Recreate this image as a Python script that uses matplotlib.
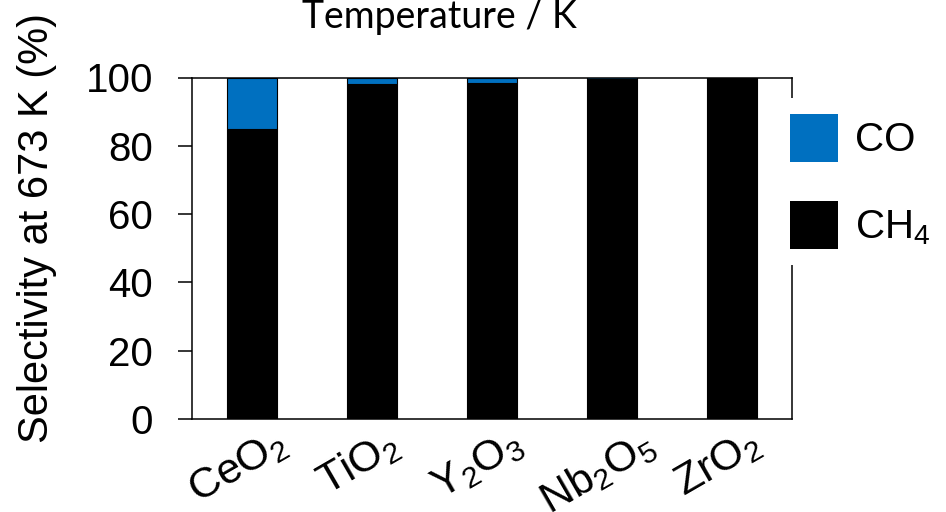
import numpy as np
import matplotlib.pyplot as plt
import matplotlib.transforms as mtransforms
from matplotlib.patches import Patch

plt.rcParams['font.family'] = 'Liberation Sans'
plt.rcParams['mathtext.fontset'] = 'custom'
plt.rcParams['mathtext.rm'] = 'Liberation Sans'
plt.rcParams['mathtext.it'] = 'Liberation Sans'

# Data
catalysts = [r'CeO$_2$', r'TiO$_2$', r'Y$_2$O$_3$', r'Nb$_2$O$_5$', r'ZrO$_2$']
ch4_sel = [84.8, 98.2, 98.4, 99.5, 99.8]
co_sel = [15.2, 1.8, 1.6, 0.5, 0.2]

co_color = '#0070C0'
ch4_color = '#000000'

fig = plt.figure(figsize=(9.46, 5.12), dpi=100)
ax = fig.add_axes([192 / 946, 1 - 419 / 512, 600 / 946, 341.5 / 512])

x = np.arange(len(catalysts))
width = 0.42
ax.bar(x, ch4_sel, width, color=ch4_color, edgecolor='black', linewidth=0.8, zorder=2)
ax.bar(x, co_sel, width, bottom=ch4_sel, color=co_color, edgecolor='black',
       linewidth=0.8, zorder=2)

ax.set_xlim(-0.5, len(catalysts) - 0.5)
ax.set_ylim(0, 100)
ax.set_yticks([0, 20, 40, 60, 80, 100])
ax.tick_params(axis='y', direction='out', length=10, width=1.1, labelsize=29, pad=18)
ax.tick_params(axis='x', length=0, labelsize=31, pad=3)
ax.set_xticks(x)
ax.set_xticklabels(catalysts, rotation=30, ha='center')
shift = mtransforms.ScaledTranslation(-14 / 100, 0, fig.dpi_scale_trans)
for lbl in ax.get_xticklabels():
    lbl.set_transform(lbl.get_transform() + shift)
for s in ax.spines.values():
    s.set_linewidth(1.1)

ax.set_ylabel('Selectivity at 673 K (%)', fontsize=30)
ax.yaxis.set_label_coords((57 - 192) / 600, (419 - 228) / 341.5)

# legend drawn over the right spine with white background
handles = [Patch(facecolor=co_color, edgecolor='none'),
           Patch(facecolor=ch4_color, edgecolor='none')]
leg = ax.legend(handles, ['CO', r'CH$_4$'], loc='upper left',
                bbox_to_anchor=(0.97, 0.94), frameon=True, facecolor='white',
                edgecolor='none', framealpha=1, fontsize=29, handlelength=1.2,
                handleheight=1.45, handletextpad=0.4, labelspacing=0.97,
                borderpad=0.4, borderaxespad=0)

fig.text(439 / 946, 1 - 28 / 512, 'Temperature / K', family='Lato', fontsize=27,
         ha='center', va='baseline')

fig.savefig('out.png', dpi=100)
